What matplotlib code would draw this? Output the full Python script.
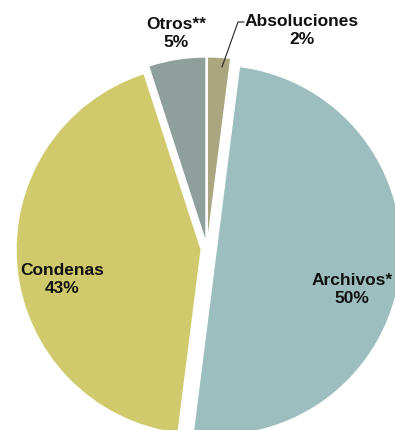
import matplotlib
matplotlib.use("Agg")
import matplotlib.pyplot as plt
from matplotlib import font_manager

categories = ["Absoluciones", "Archivos*", "Condenas", "Otros**"]
values = [2, 50, 43, 5]
labels_pct = ["2%", "50%", "43%", "5%"]
colors = ["#aaa67f", "#9dbebe", "#d1ca6d", "#8f9f9b"]
explode = [0.038, 0.051, 0.032, 0.038]

names = {f.name for f in font_manager.fontManager.ttflist}
fam = "Liberation Sans Narrow" if "Liberation Sans Narrow" in names else "Liberation Sans"
plt.rcParams['font.family'] = [fam, 'DejaVu Sans']

fig = plt.figure(figsize=(3.95, 4.31), dpi=100)
ax = fig.add_axes([0, 0, 1, 1])
wedges, _ = ax.pie(values, colors=colors, startangle=90, counterclock=False,
                   explode=explode, radius=1.0,
                   wedgeprops=dict(edgecolor="white", linewidth=0.8))
ax.set_aspect('equal')
s = 185.0
cx, cy = 207.0, 250.0
ax.set_xlim(-cx / s, (395 - cx) / s)
ax.set_ylim(-(431 - cy) / s, cy / s)
ax.axis('off')

def px(x, y):
    return ((x - cx) / s, (cy - y) / s)

tk = dict(fontsize=12.5, fontweight='bold', ha='center', va='center', color='#111111',
          linespacing=1.25)
ax.text(*px(302, 31), f"{categories[0]}\n{labels_pct[0]}", **tk)
ax.text(*px(352, 290), f"{categories[1]}\n{labels_pct[1]}", **tk)
ax.text(*px(62, 280), f"{categories[2]}\n{labels_pct[2]}", **tk)
ax.text(*px(176, 34), f"{categories[3]}\n{labels_pct[3]}", **tk)

# leader line for Absoluciones
xs, ys = zip(px(222, 68), px(238, 23), px(244, 23))
ax.plot(xs, ys, color='#222222', lw=0.8)

fig.savefig("out.png", dpi=100)
